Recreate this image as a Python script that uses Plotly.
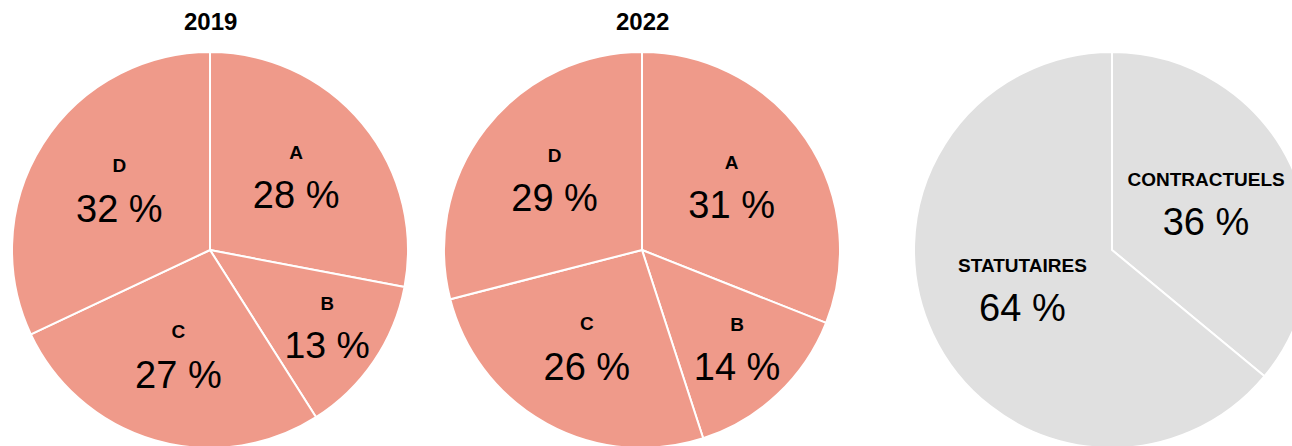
import plotly.graph_objects as go

labels_grades = ["A", "B", "C", "D"]
values_2019 = [28, 13, 27, 32]
values_2022 = [31, 14, 26, 29]
labels_status = ["CONTRACTUELS", "STATUTAIRES"]
values_status = [36, 64]
titles = ["2019", "2022"]

SALMON = "#ef9a8a"
GREY = "#e0e0e0"
W, H = 1312, 450
FONT = "Liberation Sans, Arial, sans-serif"


def make_text(labels, values):
    return [f"<span style='font-size:19px'><b>{l}</b></span><br>{v} %" for l, v in zip(labels, values)]


def dom(cx, cy, r):
    return dict(x=[(cx - r) / W, (cx + r) / W], y=[(H - cy - r) / H, (H - cy + r) / H])


fig = go.Figure()
common = dict(
    sort=False, direction="clockwise", rotation=0,
    textinfo="text", textposition="inside", insidetextorientation="horizontal",
    textfont=dict(family=FONT, size=38, color="#000"),
    hoverinfo="skip", showlegend=False,
)
fig.add_trace(go.Pie(labels=labels_grades, values=values_2019, text=make_text(labels_grades, values_2019),
                     marker=dict(colors=[SALMON] * 4, line=dict(color="white", width=2)),
                     domain=dom(210, 250, 198), **common))
fig.add_trace(go.Pie(labels=labels_grades, values=values_2022, text=make_text(labels_grades, values_2022),
                     marker=dict(colors=[SALMON] * 4, line=dict(color="white", width=2)),
                     domain=dom(642, 250, 198), **common))
fig.add_trace(go.Pie(labels=labels_status, values=values_status, text=make_text(labels_status, values_status),
                     marker=dict(colors=[GREY] * 2, line=dict(color="white", width=2)),
                     domain=dom(1112, 250, 198), **common))

for t, cx in zip(titles, [210, 642]):
    fig.add_annotation(text=f"<b>{t}</b>", x=cx / W, y=1 - 22 / H, xref="paper", yref="paper",
                       showarrow=False, xanchor="center", yanchor="middle",
                       font=dict(family=FONT, size=24, color="#000"))

fig.update_layout(width=W, height=H, margin=dict(l=0, r=0, t=0, b=0),
                  paper_bgcolor="white", plot_bgcolor="white")
fig.write_html("out.html", config={"displayModeBar": False},
               post_script="document.body.style.margin='0';document.body.style.overflow='hidden';")
